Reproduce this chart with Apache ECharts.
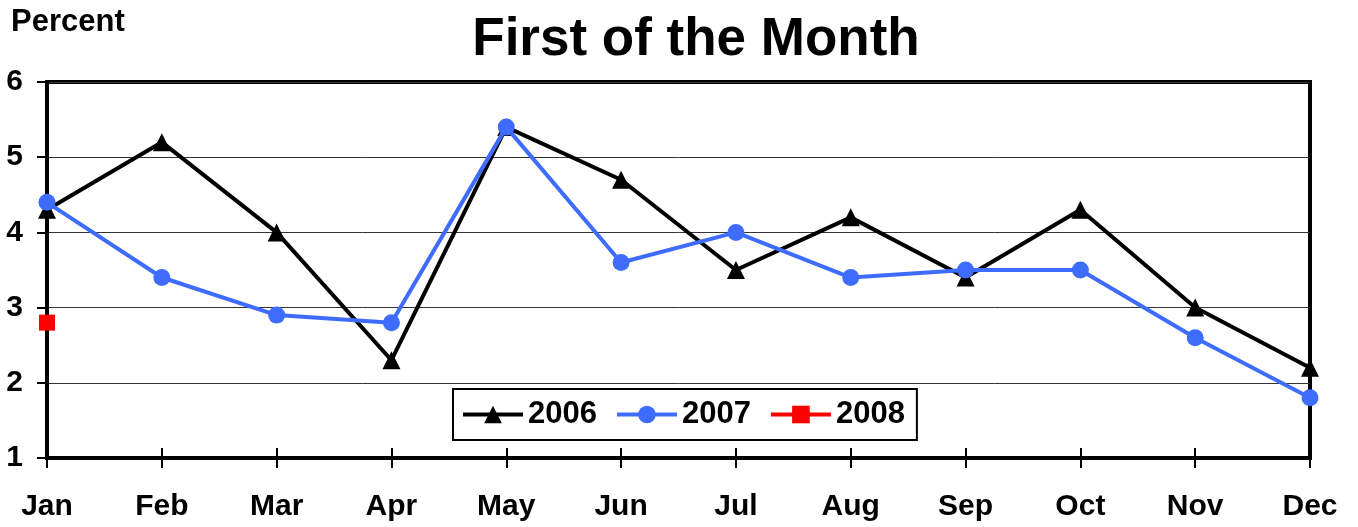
<!DOCTYPE html>
<html><head><meta charset="utf-8">
<script src="https://cdn.jsdelivr.net/npm/echarts@6/dist/echarts.min.js"></script>
<style>html,body{margin:0;padding:0;background:#fff}#c{width:1358px;height:527px}</style>
</head><body><div id="c"></div>
<script>
const months = ['Jan','Feb','Mar','Apr','May','Jun','Jul','Aug','Sep','Oct','Nov','Dec'];
const s2006 = [4.3,5.2,4.0,2.3,5.4,4.7,3.5,4.2,3.4,4.3,3.0,2.2];
const s2007 = [4.4,3.4,2.9,2.8,5.4,3.6,4.0,3.4,3.5,3.5,2.6,1.8];
const s2008 = [2.8,null,null,null,null,null,null,null,null,null,null,null];
const yTicks = {min:1, max:6, interval:1};
const font = 'Liberation Sans, Arial, sans-serif';
const chart = echarts.init(document.getElementById('c'));
chart.setOption({
  animation:false,
  title:[
    {text:'First of the Month', left:691, top:9, textAlign:'center',
     textStyle:{fontFamily:font, fontWeight:'bold', fontSize:53, color:'#000'}},
    {text:'Percent', left:6, top:2,
     textStyle:{fontFamily:font, fontWeight:'bold', fontSize:31, color:'#000'}}
  ],
  grid:{left:47, right:48, top:82, bottom:69, show:true, borderColor:'#000', borderWidth:4},
  legend:{
    left:453, top:389, padding:[10,12,10,8],
    borderColor:'#000', borderWidth:2, itemGap:18, itemWidth:60, itemHeight:22,
    textStyle:{fontFamily:font, fontWeight:'bold', fontSize:31, color:'#000'},
    data:[
      {name:'2006', lineStyle:{width:4}},
      {name:'2007', lineStyle:{width:4}},
      {name:'2008', lineStyle:{width:4}}
    ]
  },
  xAxis:[{
    type:'category', data:months, boundaryGap:false,
    axisLine:{lineStyle:{color:'#000', width:4}},
    axisTick:{show:true, length:10, lineStyle:{color:'#000', width:2}},
    axisLabel:{fontFamily:font, fontWeight:'bold', fontSize:30, color:'#000', margin:34},
    splitLine:{show:false}
  },{
    type:'category', data:months, boundaryGap:false, position:'bottom',
    axisLine:{show:false},
    axisTick:{show:true, inside:true, length:10, lineStyle:{color:'#000', width:2}},
    axisLabel:{show:false}, splitLine:{show:false}
  }],
  yAxis:{
    type:'value', min:yTicks.min, max:yTicks.max, interval:yTicks.interval,
    axisLine:{show:true, lineStyle:{color:'#000', width:4}},
    axisTick:{show:true, length:10, lineStyle:{color:'#000', width:2}},
    axisLabel:{fontFamily:font, fontWeight:'bold', fontSize:30, color:'#000', margin:24},
    splitLine:{lineStyle:{color:'#333', width:1}}
  },
  series:[
    {name:'2006', type:'line', data:s2006, symbol:'triangle', symbolSize:18,
     lineStyle:{color:'#000', width:4}, itemStyle:{color:'#000'}, z:3},
    {name:'2007', type:'line', data:s2007, symbol:'circle', symbolSize:17,
     lineStyle:{color:'#3d6cff', width:4}, itemStyle:{color:'#3d6cff'}, z:4},
    {name:'2008', type:'line', data:s2008, symbol:'rect', symbolSize:16,
     lineStyle:{color:'#ff0000', width:4}, itemStyle:{color:'#ff0000'}, z:5}
  ]
});
</script></body></html>
